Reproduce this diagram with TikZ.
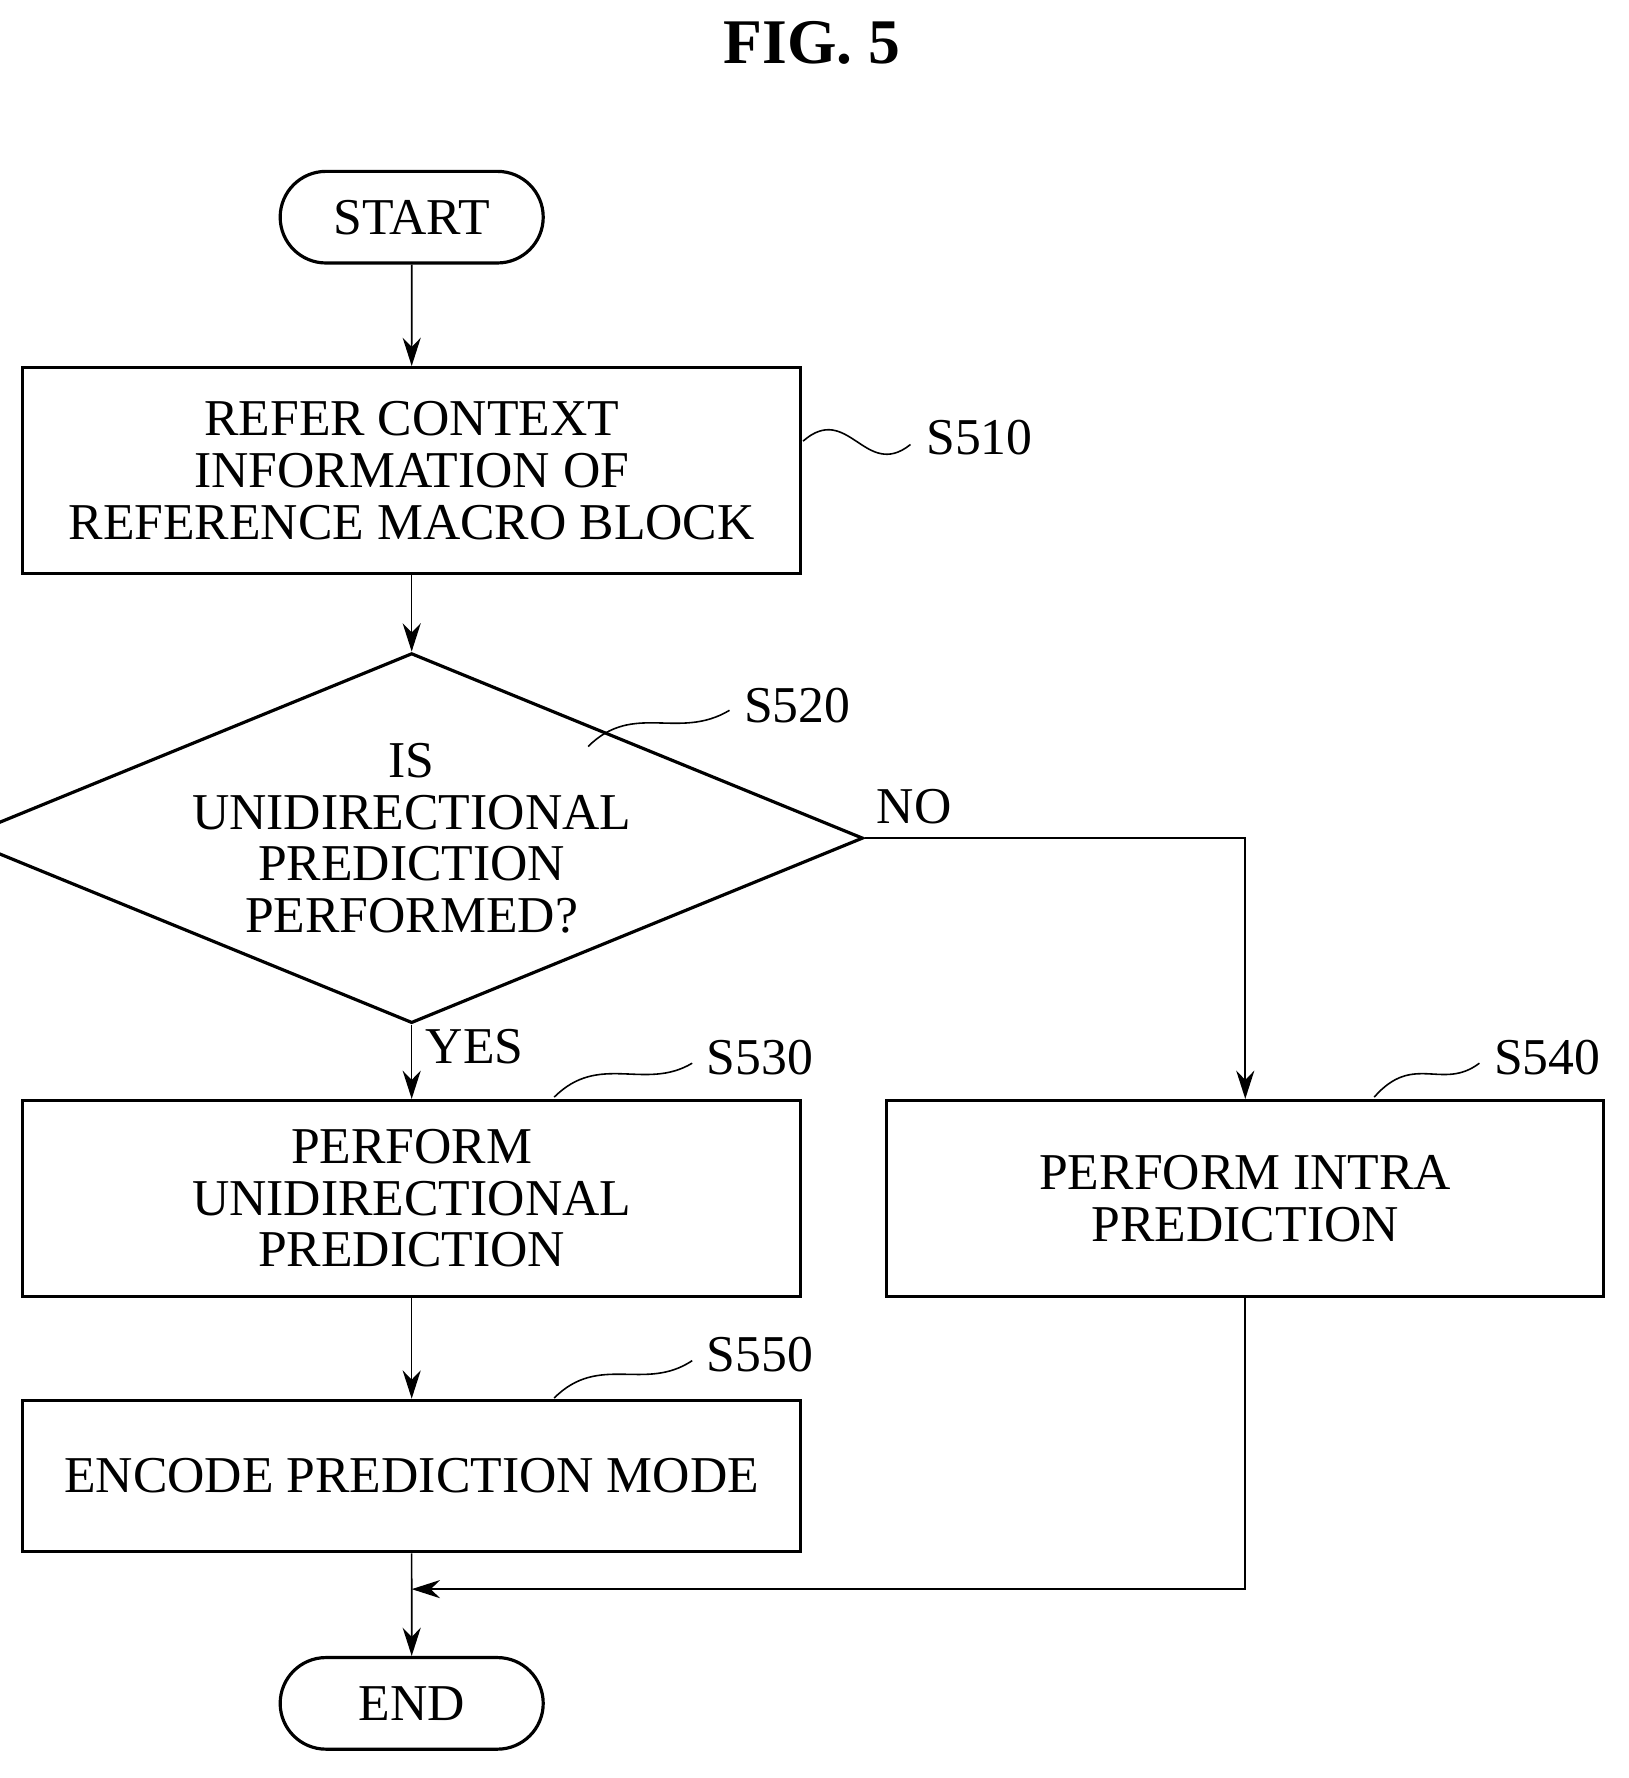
\documentclass[tikz,border=0pt]{standalone}
\usepackage{fontspec}
\setmainfont{Liberation Serif}
\usetikzlibrary{positioning, arrows.meta, shapes}

\begin{document}
\begin{tikzpicture}[
    every node/.style={font=\fontsize{13}{13}\selectfont,align=center},
    box/.style={draw, thick, rectangle, minimum width=6.88cm},
    term/.style={draw, thick, rounded rectangle, minimum width=2.56cm, minimum height=0.81cm},
    arrow/.style={-{Stealth[length=2.5mm,width=1.6mm]}},
    wave/.style={thin}
]
    \useasboundingbox (0,0) rectangle (14.4,-15.72);
    \node (title) at (7.18,-0.38) {\fontsize{16}{16}\selectfont\bfseries FIG. 5};

    \node (start) [term] at (3.64,-1.92) {START};
    \node (refer) [box, minimum height=1.82cm] at (3.64,-4.16) {REFER CONTEXT\\INFORMATION OF\\REFERENCE MACRO BLOCK};
    \node (check) [draw, thick, diamond, aspect=2.44, minimum width=6.88cm, minimum height=2.82cm, inner sep=0pt] at (3.64,-7.41) {IS\\UNIDIRECTIONAL\\PREDICTION\\PERFORMED?};
    \node (uni) [box, minimum height=1.73cm] at (3.64,-10.595) {PERFORM\\UNIDIRECTIONAL\\PREDICTION};
    \node (intra) [box, minimum width=6.34cm, minimum height=1.73cm] at (11.01,-10.595) {PERFORM INTRA\\PREDICTION};
    \node (encode) [box, minimum height=1.34cm] at (3.64,-13.05) {ENCODE PREDICTION MODE};
    \node (end) [term] at (3.64,-15.06) {END};
    \coordinate (merge) at (3.64,-14.05);

    \draw [arrow] (start) -- (refer);
    \draw [arrow] (refer) -- (check);
    \draw [arrow] (check) -- node[right, pos=0.3] {YES} (uni);
    \draw [arrow] (check.east) -- node[above, pos=0.13] {NO} (intra.north |- check.east) -- (intra.north);
    \draw [arrow] (uni) -- (encode);
    \draw [arrow] (encode) -- (end);
    \draw [arrow] (intra.south) |- (merge);

    % step labels
    \node (l510) at (8.66,-3.87) {S510};
    \node (l520) at (7.05,-6.24) {S520};
    \node (l530) at (6.72,-9.35) {S530};
    \node (l540) at (13.68,-9.35) {S540};
    \node (l550) at (6.72,-11.98) {S550};
    \draw [wave] (7.10,-3.90) .. controls (7.50,-3.55) and (7.65,-4.25) .. (8.05,-3.93);
    \draw [wave] (5.20,-6.60) .. controls (5.60,-6.20) and (6.00,-6.55) .. (6.45,-6.28);
    \draw [wave] (4.90,-9.70) .. controls (5.30,-9.30) and (5.70,-9.65) .. (6.12,-9.40);
    \draw [wave] (12.15,-9.70) .. controls (12.50,-9.30) and (12.75,-9.65) .. (13.08,-9.40);
    \draw [wave] (4.90,-12.36) .. controls (5.30,-11.96) and (5.70,-12.31) .. (6.12,-12.03);
\end{tikzpicture}
\end{document}
